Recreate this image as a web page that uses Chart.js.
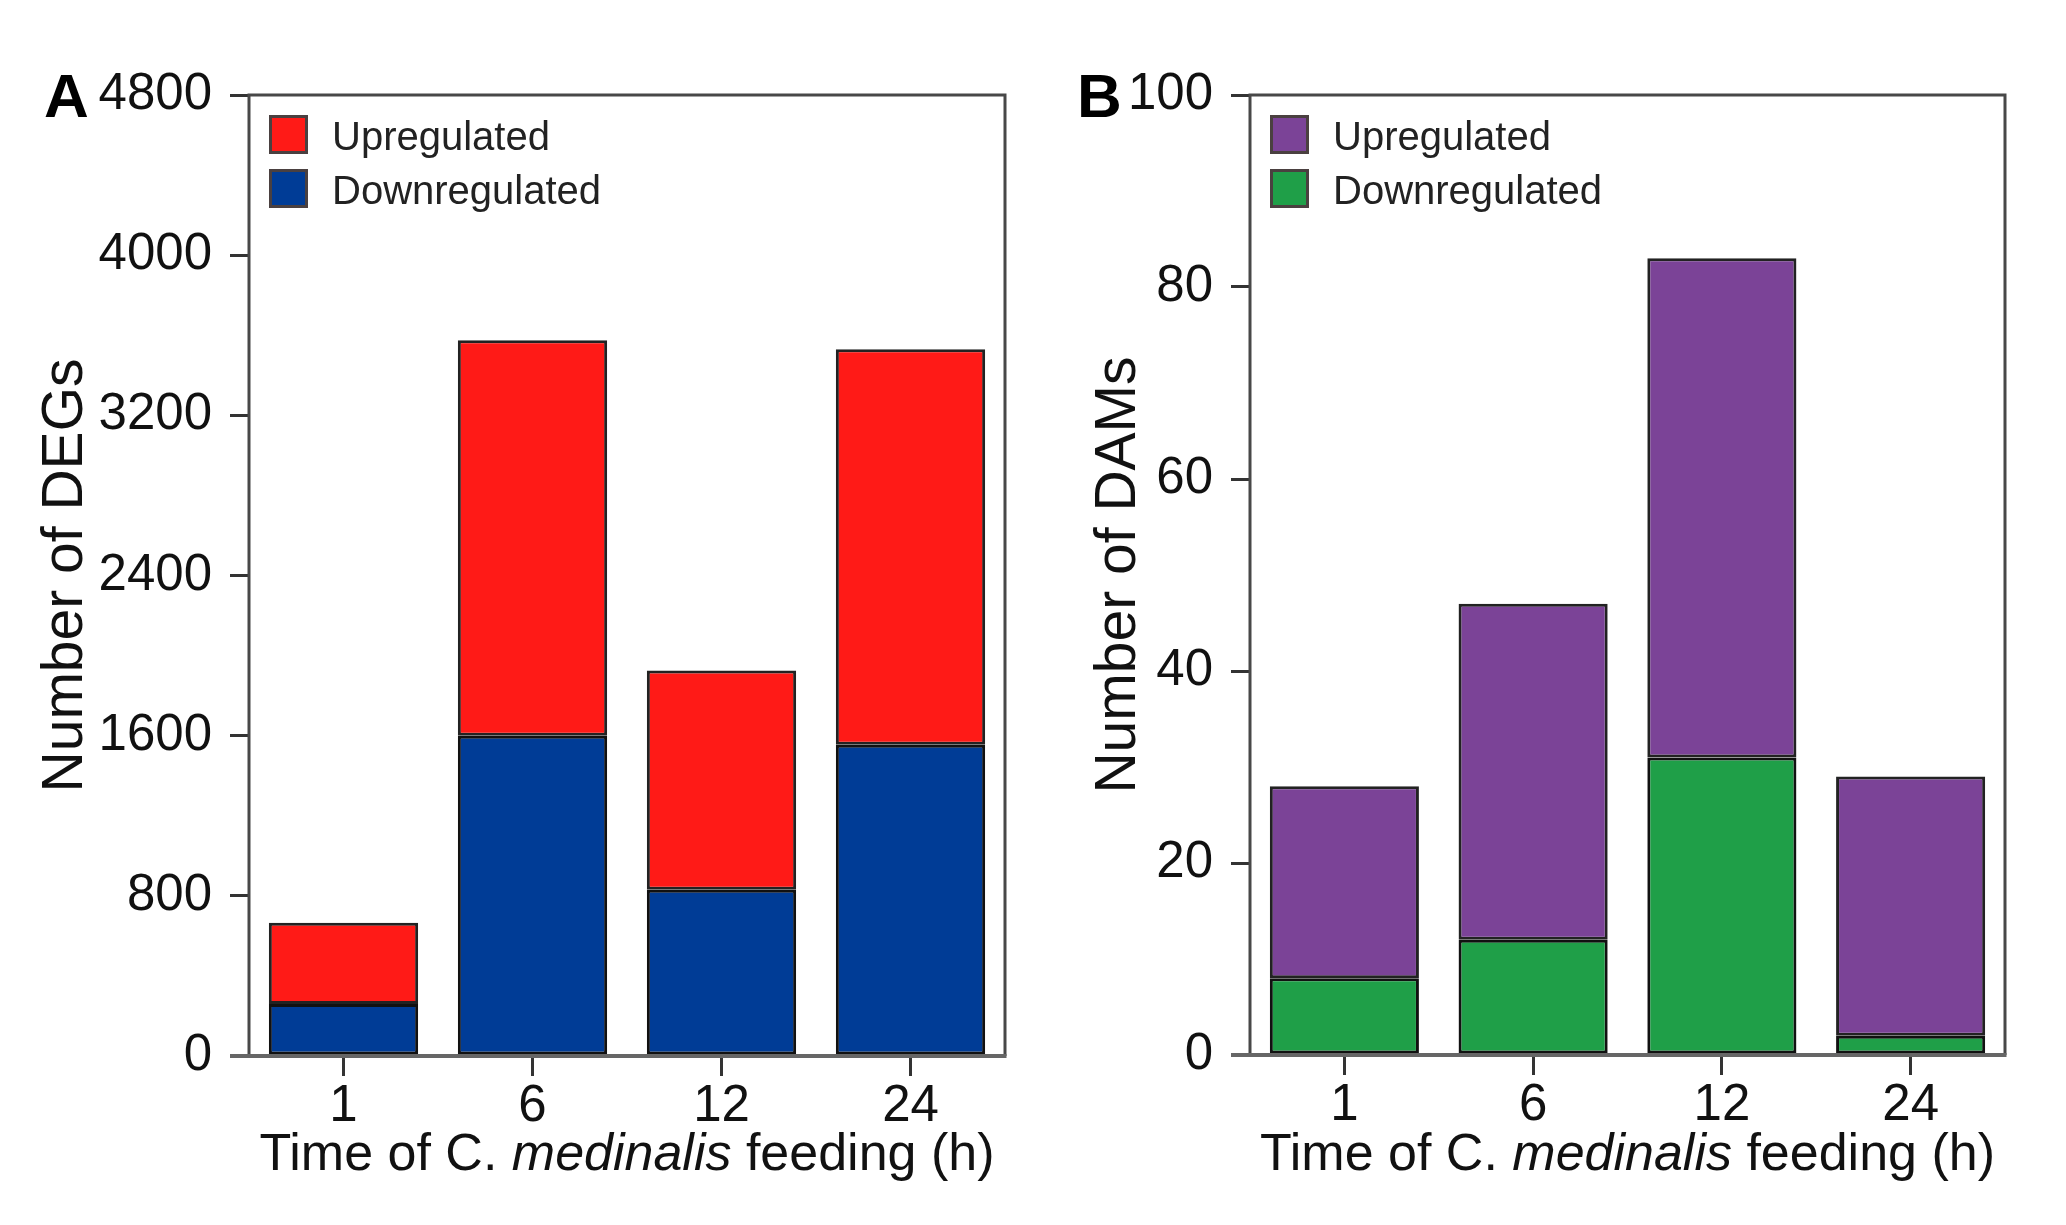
<!DOCTYPE html>
<html>
<head>
<meta charset="utf-8">
<script src="https://cdn.jsdelivr.net/npm/chart.js@4.4.1/dist/chart.umd.min.js"></script>
<style>
  body { margin: 0; background: #fff; }
  #wrap { position: relative; width: 2066px; height: 1225px; }
  canvas { position: absolute; top: 0; }
  #chartA { left: 0; }
  #chartB { left: 1033px; }
</style>
</head>
<body>
<div id="wrap">
  <canvas id="chartA" width="1033" height="1225"></canvas>
  <canvas id="chartB" width="1033" height="1225"></canvas>
</div>
<script>
// data
const timeLabels = ["1", "6", "12", "24"];
const degDown = [260, 1600, 830, 1555];
const degUp = [405, 1975, 1095, 1975];
const degTicks = [0, 800, 1600, 2400, 3200, 4000, 4800];
const damDown = [8, 12, 31, 2];
const damUp = [20, 35, 52, 27];
const damTicks = [0, 20, 40, 60, 80, 100];

const FONT = '"Liberation Sans", Arial, sans-serif';

// frame round the plot area, legend inside it, panel letter and x title
const decorations = {
  id: "decorations",
  afterDatasetsDraw(chart, args, opts) {
    const { ctx, chartArea } = chart;
    const { left, right, top, bottom } = chartArea;
    ctx.save();

    ctx.strokeStyle = "#484848";
    ctx.lineWidth = 3;
    ctx.beginPath();
    ctx.moveTo(left, bottom);
    ctx.lineTo(left, top);
    ctx.lineTo(right, top);
    ctx.lineTo(right, bottom);
    ctx.stroke();
    ctx.strokeStyle = "#666";
    ctx.lineWidth = 4;
    ctx.beginPath();
    ctx.moveTo(left - 19, bottom);
    ctx.lineTo(right + 1.5, bottom);
    ctx.stroke();

    // legend, upregulated on top
    const items = chart.data.datasets.slice().reverse();
    items.forEach((ds, i) => {
      const x = left + 20;
      const y = top + 20 + i * 54;
      ctx.fillStyle = ds.backgroundColor;
      ctx.fillRect(x, y, 39, 39);
      ctx.strokeStyle = "#4a4040";
      ctx.lineWidth = 3;
      ctx.strokeRect(x + 1.5, y + 1.5, 36, 36);
      ctx.fillStyle = "#222";
      ctx.font = "40px " + FONT;
      ctx.textBaseline = "middle";
      ctx.textAlign = "left";
      ctx.fillText(ds.label, x + 63, y + 24);
    });

    // panel letter
    ctx.fillStyle = "#000";
    ctx.font = "bold 62px " + FONT;
    ctx.textBaseline = "alphabetic";
    ctx.fillText(opts.letter, 44, 117);

    // x axis title with italic species name
    const parts = [
      ["Time of C. ", "52px " + FONT],
      ["medinalis", "italic 52px " + FONT],
      [" feeding (h)", "52px " + FONT],
    ];
    let total = 0;
    parts.forEach((p) => {
      ctx.font = p[1];
      total += ctx.measureText(p[0]).width;
    });
    let x = (left + right) / 2 - total / 2;
    ctx.fillStyle = "#111";
    parts.forEach((p) => {
      ctx.font = p[1];
      ctx.fillText(p[0], x, 1170);
      x += ctx.measureText(p[0]).width;
    });
    ctx.restore();
  },
};

function makeChart(id, opts) {
  const ctx = document.getElementById(id).getContext("2d");
  return new Chart(ctx, {
    type: "bar",
    data: {
      labels: timeLabels,
      datasets: [
        {
          label: "Downregulated",
          data: opts.down,
          backgroundColor: opts.downColor,
          borderColor: "#111",
          borderWidth: 3,
          borderSkipped: false,
        },
        {
          label: "Upregulated",
          data: opts.up,
          backgroundColor: opts.upColor,
          borderColor: "#222",
          borderWidth: 3,
          borderSkipped: false,
        },
      ],
    },
    options: {
      responsive: false,
      animation: false,
      devicePixelRatio: 1,
      layout: { padding: { top: 95, right: opts.padRight, left: 0, bottom: 0 } },
      datasets: { bar: { barPercentage: 0.79, categoryPercentage: 1 } },
      plugins: {
        legend: { display: false },
        tooltip: { enabled: false },
        decorations: { letter: opts.letter },
      },
      scales: {
        x: {
          stacked: true,
          afterFit(scale) {
            scale.height = opts.xHeight;
          },
          border: { display: false },
          grid: {
            offset: false,
            drawOnChartArea: false,
            drawTicks: true,
            tickLength: 20,
            color: "#333",
            lineWidth: 3,
          },
          ticks: {
            padding: 0,
            color: "#111",
            font: { family: FONT, size: 51 },
          },
        },
        y: {
          stacked: true,
          min: 0,
          max: opts.ticks[opts.ticks.length - 1],
          afterBuildTicks(scale) {
            scale.ticks = opts.ticks.map((v) => ({ value: v }));
          },
          afterFit(scale) {
            scale.width = opts.yWidth;
          },
          border: { display: false },
          grid: {
            drawOnChartArea: false,
            drawTicks: true,
            tickLength: 19,
            color: "#333",
            lineWidth: 3,
          },
          ticks: {
            padding: 18,
            color: "#111",
            font: { family: FONT, size: 51 },
            callback: (value) => String(value),
          },
          title: {
            display: true,
            text: opts.yTitle,
            color: "#111",
            font: { family: FONT, size: 57 },
            padding: { top: opts.titlePad, bottom: 0 },
          },
        },
      },
    },
    plugins: [decorations],
  });
}

makeChart("chartA", {
  letter: "A",
  down: degDown,
  up: degUp,
  downColor: "#003C96",
  upColor: "#FF1A17",
  ticks: degTicks,
  yTitle: "Number of DEGs",
  yWidth: 249,
  padRight: 28,
  xHeight: 169,
  titlePad: 32,
});

makeChart("chartB", {
  letter: "B",
  down: damDown,
  up: damUp,
  downColor: "#1F9F48",
  upColor: "#7B4397",
  ticks: damTicks,
  yTitle: "Number of DAMs",
  yWidth: 217,
  padRight: 61,
  xHeight: 170,
  titlePad: 52,
});
</script>
</body>
</html>
